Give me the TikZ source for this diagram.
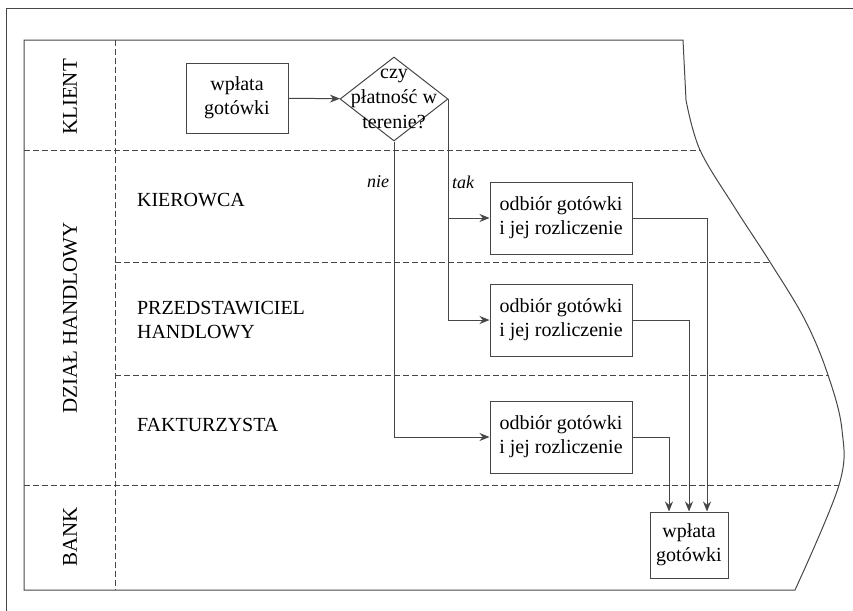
\documentclass[tikz,border=0pt]{standalone}
\usepackage{fontspec}
\setmainfont{Liberation Serif}
\usetikzlibrary{positioning}
\usetikzlibrary{arrows.meta}
\usetikzlibrary{shapes.geometric}
\definecolor{linegray}{RGB}{70,70,70}
\tikzset{
thinline/.style={draw=linegray, line width=0.5pt},
divider/.style={draw=linegray, line width=0.5pt, dash pattern=on 3pt off 1.5pt},
activity/.style={thinline, rectangle, align=center, inner sep=1pt,
	minimum width=71pt, minimum height=36pt, font=\fontsize{10}{12}\selectfont},
decision/.style={thinline, diamond, inner sep=0pt, minimum width=54pt, minimum height=42pt},
flow/.style={thinline, -{Stealth[length=5pt,width=4pt]}},
lanelabel/.style={rotate=90, font=\fontsize{10.5}{12}\selectfont},
rolelabel/.style={anchor=west, align=left, font=\fontsize{10}{12}\selectfont},
answer/.style={font=\fontsize{9}{11}\selectfont\itshape},
}
\begin{document}
\begin{tikzpicture}[x=0.5pt, y=-0.5pt]
\useasboundingbox (0,0) rectangle (853,611);
%Frame and lanes
\draw[thinline] (853,8) -- (6,8) -- (6,611);
\path[save path=\lanes] (24,40) -- (683,40) -- plot[smooth, tension=0.6] coordinates
	{(686,100) (700,150) (735,208) (770,262) (805,320) (828,375) (842,430) (839,485) (795,590)}
	-- (24,590) -- cycle;
\draw[thinline, use path=\lanes];
\begin{scope}
\clip[use path=\lanes];
\draw[divider] (24,150) -- (900,150);
\draw[divider] (115,262) -- (900,262);
\draw[divider] (115,375) -- (900,375);
\draw[divider] (24,485) -- (900,485);
\draw[divider] (115,40) -- (115,590);
\end{scope}

%Place the nodes
\node[lanelabel] (klient) at (70,97) {KLIENT};
\node[lanelabel] (dzial) at (70,318) {DZIAŁ HANDLOWY};
\node[lanelabel] (bank) at (70,537) {BANK};
\node[rolelabel] (kierowca) at (130,200) {KIEROWCA};
\node[rolelabel] (przedst) at (130,320) {PRZEDSTAWICIEL\\HANDLOWY};
\node[rolelabel] (fakt) at (130,425) {FAKTURZYSTA};

\node[activity, minimum width=51pt, minimum height=35pt] (wplata) at (237,98) {wpłata\\gotówki};
\node[decision, label={[align=center, font=\fontsize{10}{12.5}\selectfont]center:czy\\płatność w\\terenie?}] (decyzja) at (394,99) {};
\node[activity] (odbior1) at (561,218) {odbiór gotówki\\i jej rozliczenie};
\node[activity] (odbior2) at (561,320) {odbiór gotówki\\i jej rozliczenie};
\node[activity] (odbior3) at (561,437) {odbiór gotówki\\i jej rozliczenie};
\node[activity, minimum width=39pt, minimum height=33pt] (wplatab) at (689,545) {wpłata\\gotówki};

%Connect them
\draw[flow] (wplata) -- (decyzja);
\draw[flow] (decyzja.south) |- (odbior3.west);
\draw[flow] (decyzja.east) |- (odbior1.west);
\draw[flow] (decyzja.east) |- (odbior2.west);
\draw[flow] (odbior1.east) -| ([xshift=9pt]wplatab.north);
\draw[flow] (odbior2.east) -| (wplatab.north);
\draw[flow] (odbior3.east) -| ([xshift=-10pt]wplatab.north);

\node[answer] (nie) at (378,182) {nie};
\node[answer] (tak) at (463,182) {tak};
\end{tikzpicture}
\end{document}
